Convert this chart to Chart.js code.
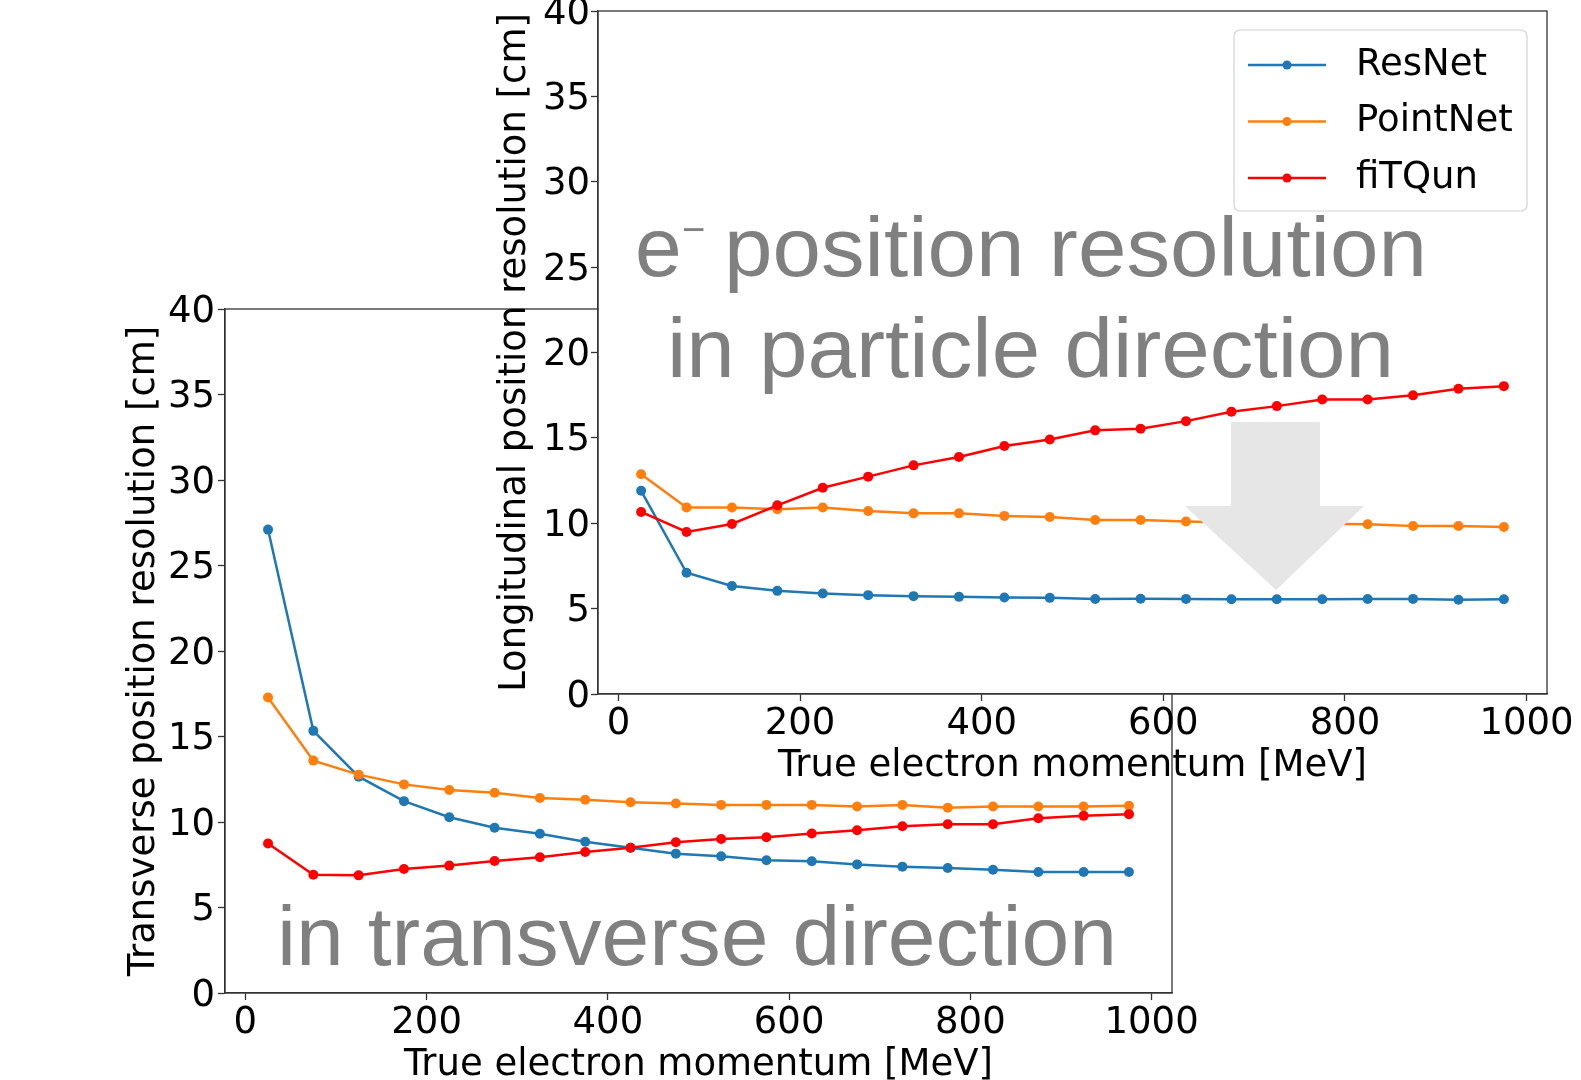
<!DOCTYPE html>
<html>
<head>
<meta charset="utf-8">
<script src="https://cdn.jsdelivr.net/npm/chart.js@4"></script>
<style>
  html, body { margin: 0; padding: 0; background: #fff; }
  #page { position: relative; width: 1581px; height: 1080px; overflow: hidden; background: #fff; }
  canvas { position: absolute; }
  #transChart { left: 100px; top: 290px; z-index: 1; }
  #longChart { left: 470px; top: -20px; z-index: 2; }
  #overlay { position: absolute; left: 0; top: 0; z-index: 3; pointer-events: none; }
</style>
</head>
<body>
<div id="page">
  <canvas id="transChart" width="1100" height="794"></canvas>
  <canvas id="longChart" width="1111" height="810"></canvas>
  <svg id="overlay" width="1581" height="1080">
    <polygon points="1231,422 1320,422 1320,506 1364,506 1276,590 1185,506 1231,506" fill="#e6e6e6"/>
    <g fill="#808080" font-family="Liberation Sans, Arial, sans-serif" font-size="84">
      <text x="635" y="276">e</text>
      <text x="682" y="243" font-size="40">−</text>
      <text x="724" y="276" textLength="703" lengthAdjust="spacingAndGlyphs">position resolution</text>
      <text x="667" y="377" textLength="727" lengthAdjust="spacingAndGlyphs">in particle direction</text>
      <text x="277" y="965" textLength="840" lengthAdjust="spacingAndGlyphs">in transverse direction</text>
    </g>
  </svg>
</div>
<script>
// momentum bin centres [MeV]
const momentum = [25, 75, 125, 175, 225, 275, 325, 375, 425, 475, 525, 575, 625, 675, 725, 775, 825, 875, 925, 975];

// longitudinal resolution [cm]
const longResNet = [11.9, 7.1, 6.33, 6.04, 5.89, 5.79, 5.73, 5.69, 5.65, 5.63, 5.56, 5.58, 5.57, 5.55, 5.55, 5.55, 5.56, 5.57, 5.52, 5.55];
const longPointNet = [12.87, 10.92, 10.92, 10.82, 10.92, 10.72, 10.58, 10.58, 10.43, 10.37, 10.19, 10.19, 10.1, 10.05, 10.0, 9.97, 9.94, 9.84, 9.84, 9.78];
const longFiTQun = [10.66, 9.49, 9.96, 11.05, 12.08, 12.73, 13.39, 13.88, 14.52, 14.91, 15.44, 15.53, 15.98, 16.53, 16.86, 17.25, 17.25, 17.49, 17.88, 18.03];

// transverse resolution [cm]
const transResNet = [27.1, 15.33, 12.65, 11.22, 10.28, 9.66, 9.31, 8.84, 8.49, 8.15, 7.99, 7.76, 7.70, 7.52, 7.39, 7.31, 7.21, 7.08, 7.08, 7.08];
const transPointNet = [17.28, 13.59, 12.77, 12.2, 11.87, 11.71, 11.4, 11.3, 11.16, 11.08, 11.0, 11.0, 11.0, 10.91, 11.0, 10.83, 10.91, 10.91, 10.91, 10.95];
const transFiTQun = [8.74, 6.92, 6.88, 7.25, 7.45, 7.72, 7.94, 8.25, 8.49, 8.82, 9.01, 9.11, 9.33, 9.52, 9.75, 9.87, 9.87, 10.22, 10.36, 10.46];

const seriesNames = ['ResNet', 'PointNet', 'fiTQun'];
const seriesColors = ['#1f77b4', '#ff7f0e', '#ff0000'];

const xTicks = [0, 200, 400, 600, 800, 1000];
const yTicks = [0, 5, 10, 15, 20, 25, 30, 35, 40];

const FONT = { family: 'DejaVu Sans', size: 37, lineHeight: 1 };

function makeDatasets(valueLists) {
  return valueLists.map((vals, i) => ({
    label: seriesNames[i],
    data: momentum.map((m, k) => ({ x: m, y: vals[k] })),
    borderColor: seriesColors[i],
    backgroundColor: seriesColors[i],
    pointBackgroundColor: seriesColors[i],
    borderWidth: 2.5,
    pointRadius: 5,
    pointBorderWidth: 0,
    pointHoverRadius: 5,
    tension: 0,
    order: 3 - i
  }));
}

// white plot area + full box frame like matplotlib
const framePlugin = {
  id: 'frame',
  beforeDraw(chart) {
    const { ctx, chartArea: a } = chart;
    ctx.save();
    ctx.fillStyle = '#fff';
    ctx.fillRect(a.left, a.top, a.right - a.left, a.bottom - a.top);
    ctx.restore();
  },
  afterDatasetsDraw(chart) {
    const { ctx, chartArea: a } = chart;
    ctx.save();
    ctx.strokeStyle = '#333';
    ctx.lineWidth = 1.3;
    ctx.strokeRect(a.left, a.top, a.right - a.left, a.bottom - a.top);
    ctx.restore();
  }
};

// legend box inside the plot, upper right
const insideLegend = {
  id: 'insideLegend',
  afterDraw(chart, args, opts) {
    if (!opts.show) return;
    const { ctx, chartArea: a } = chart;
    const w = 293, h = 181;
    const left = a.right - 20 - w, top = a.top + 19;
    ctx.save();
    ctx.beginPath();
    ctx.roundRect(left, top, w, h, 6);
    ctx.fillStyle = 'rgba(255,255,255,0.8)';
    ctx.fill();
    ctx.strokeStyle = '#d3d3d3';
    ctx.lineWidth = 1.2;
    ctx.stroke();
    chart.data.datasets.forEach((ds, i) => {
      const y = top + 35 + i * 56.5;
      ctx.strokeStyle = ds.borderColor;
      ctx.lineWidth = 2.5;
      ctx.beginPath();
      ctx.moveTo(left + 14, y);
      ctx.lineTo(left + 92, y);
      ctx.stroke();
      ctx.fillStyle = ds.borderColor;
      ctx.beginPath();
      ctx.arc(left + 53, y, 4.5, 0, Math.PI * 2);
      ctx.fill();
      ctx.fillStyle = '#000';
      ctx.font = '37px "DejaVu Sans"';
      ctx.textBaseline = 'middle';
      ctx.fillText(ds.label, left + 122, y);
    });
    ctx.restore();
  }
};

function makeChart(canvasId, valueLists, cfg) {
  const ctx = document.getElementById(canvasId).getContext('2d');
  return new Chart(ctx, {
    type: 'line',
    data: { datasets: makeDatasets(valueLists) },
    plugins: [framePlugin, insideLegend],
    options: {
      responsive: false,
      animation: false,
      devicePixelRatio: 1,
      layout: { padding: { top: cfg.padTop, right: cfg.padRight, left: 0, bottom: 0 } },
      plugins: {
        legend: { display: false },
        tooltip: { enabled: false },
        insideLegend: { show: cfg.legend }
      },
      scales: {
        x: {
          type: 'linear',
          min: -22.5,
          max: 1022.5,
          afterBuildTicks: s => { s.ticks = xTicks.map(v => ({ value: v })); },
          afterFit: s => { s.height = cfg.xHeight; s.paddingLeft = 0; s.paddingRight = 0; },
          grid: { drawOnChartArea: false, drawTicks: true, tickLength: 7, tickColor: '#333', tickWidth: 1.3 },
          border: { display: true, color: '#333', width: 1.3 },
          ticks: { font: FONT, color: '#000', padding: 5, maxRotation: 0, autoSkip: false, callback: v => String(v) },
          title: {
            display: true,
            text: 'True electron momentum [MeV]',
            font: FONT,
            color: '#000',
            padding: { top: 0, bottom: cfg.xTitlePad }
          }
        },
        y: {
          min: 0,
          max: 40,
          afterBuildTicks: s => { s.ticks = yTicks.map(v => ({ value: v })); },
          afterFit: s => { s.width = cfg.yWidth; s.paddingTop = 0; s.paddingBottom = 0; },
          grid: { drawOnChartArea: false, drawTicks: true, tickLength: 7, tickColor: '#333', tickWidth: 1.3 },
          border: { display: true, color: '#333', width: 1.3 },
          ticks: { font: FONT, color: '#000', padding: cfg.yTickPad, labelOffset: 3, callback: v => String(v) },
          title: {
            display: true,
            text: cfg.yTitle,
            font: FONT,
            color: '#000',
            padding: { top: cfg.yTitlePad, bottom: 0 }
          }
        }
      }
    }
  });
}

document.addEventListener('DOMContentLoaded', () => {
  makeChart('transChart', [transResNet, transPointNet, transFiTQun], {
    padTop: 19, padRight: 28, xHeight: 91, yWidth: 125,
    xTitlePad: 0, yTitlePad: 25.5, yTickPad: 3,
    yTitle: 'Transverse position resolution [cm]', legend: false
  });
  makeChart('longChart', [longResNet, longPointNet, longFiTQun], {
    padTop: 31, padRight: 34, xHeight: 96, yWidth: 128,
    xTitlePad: 5, yTitlePad: 26.5, yTickPad: 1,
    yTitle: 'Longitudinal position resolution [cm]', legend: true
  });
});
</script>
</body>
</html>
